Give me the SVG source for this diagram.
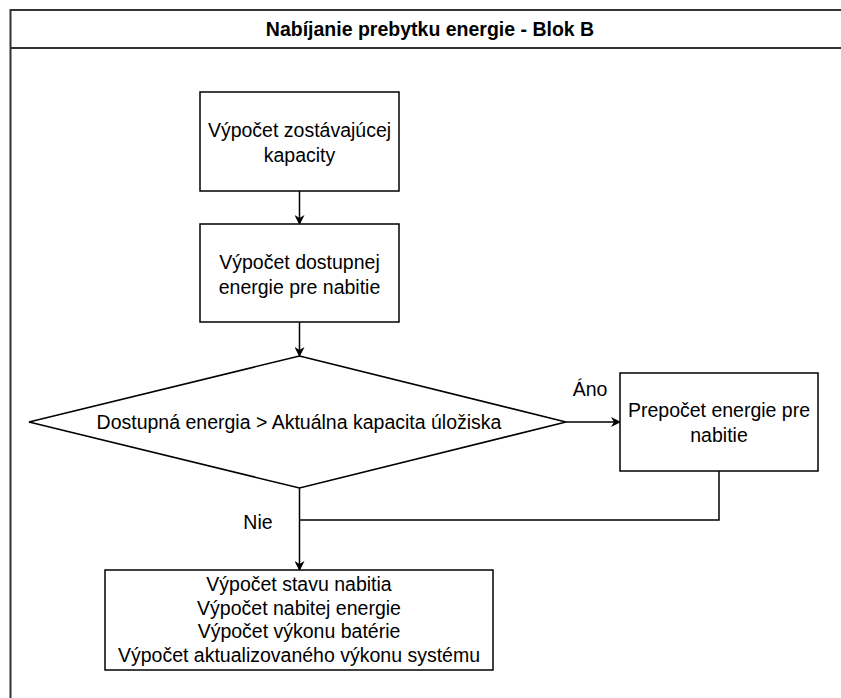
<svg xmlns="http://www.w3.org/2000/svg" width="841" height="698" viewBox="0 0 841 698">
<style>
  .node { fill: #ffffff; stroke: #000000; stroke-width: 1.5; }
  .t { font-family: "Liberation Sans", Arial, sans-serif; font-size: 19.5px; fill: #000000; text-anchor: middle; }
  .title { font-family: "Liberation Sans", Arial, sans-serif; font-size: 19.5px; font-weight: bold; fill: #000000; text-anchor: middle; }
  .edge { fill: none; stroke: #000000; stroke-width: 1.5; }
  .frame { fill: none; stroke: #333333; stroke-width: 2; }
</style>
<defs>
  <marker id="arrow" viewBox="0 0 10 10" refX="9" refY="5" markerWidth="10" markerHeight="10" markerUnits="userSpaceOnUse" orient="auto">
    <path d="M0,0 L10,5 L0,10 L3,5 Z" fill="#000000"/>
  </marker>
</defs>
<rect x="0" y="0" width="841" height="698" fill="#ffffff"/>
<g id="frame">
  <rect class="frame" x="10.5" y="10" width="850" height="700"/>
  <line class="frame" x1="10.5" y1="48" x2="850" y2="48"/>
  <text class="title" x="430" y="36">Nabíjanie prebytku energie - Blok B</text>
</g>
<g id="connectors">
  <line class="edge" x1="299.5" y1="191" x2="299.5" y2="224" marker-end="url(#arrow)"/>
  <line class="edge" x1="299.5" y1="322" x2="299.5" y2="356" marker-end="url(#arrow)"/>
  <line class="edge" x1="566" y1="422" x2="620" y2="422" marker-end="url(#arrow)"/>
  <line class="edge" x1="299.5" y1="488" x2="299.5" y2="570" marker-end="url(#arrow)"/>
  <polyline class="edge" points="719,471 719,520 299.5,520"/>
  <text class="t" x="590" y="396">Áno</text>
  <text class="t" x="258" y="529">Nie</text>
</g>
<g id="node-zostavajuca">
  <rect class="node" x="200" y="92" width="199" height="99"/>
  <text class="t" x="299.5" y="137">Výpočet zostávajúcej</text>
  <text class="t" x="299.5" y="162">kapacity</text>
</g>
<g id="node-dostupna">
  <rect class="node" x="200" y="224" width="199" height="98"/>
  <text class="t" x="299.5" y="269">Výpočet dostupnej</text>
  <text class="t" x="299.5" y="294">energie pre nabitie</text>
</g>
<g id="node-decision">
  <polygon class="node" points="299.5,356 566,422 299.5,488 29,422"/>
  <text class="t" x="299" y="429">Dostupná energia &gt; Aktuálna kapacita úložiska</text>
</g>
<g id="node-prepocet">
  <rect class="node" x="620" y="373" width="198" height="98"/>
  <text class="t" x="719" y="417">Prepočet energie pre</text>
  <text class="t" x="719" y="442">nabitie</text>
</g>
<g id="node-vysledok">
  <rect class="node" x="105" y="570" width="388" height="100"/>
  <text class="t" x="299" y="591">Výpočet stavu nabitia</text>
  <text class="t" x="299" y="614.5">Výpočet nabitej energie</text>
  <text class="t" x="299" y="638">Výpočet výkonu batérie</text>
  <text class="t" x="299" y="661.5">Výpočet aktualizovaného výkonu systému</text>
</g>
</svg>
